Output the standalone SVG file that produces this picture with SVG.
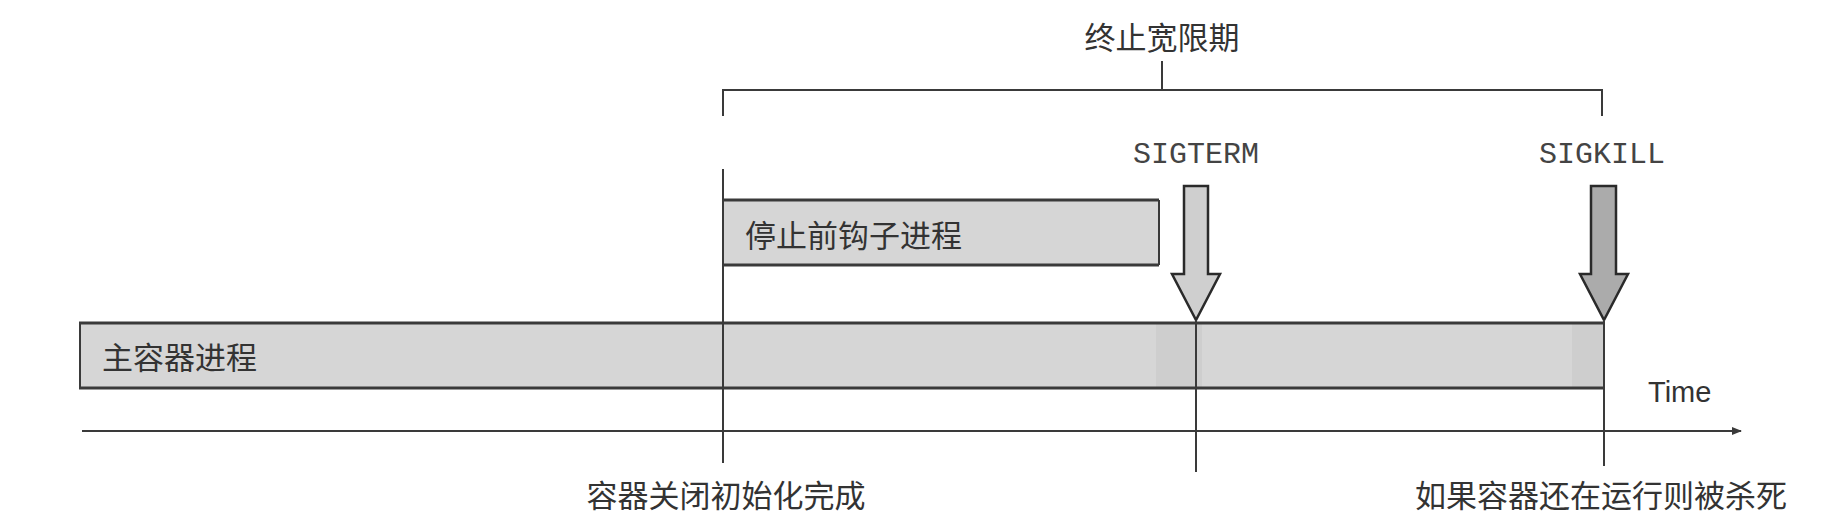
<svg xmlns="http://www.w3.org/2000/svg" width="1826" height="528" viewBox="0 0 1826 528">
  <style>
    .cjk { font-family: "Noto Sans CJK SC", "Noto Sans", sans-serif; font-size: 31px; fill: #333; }
    .mono { font-family: "Liberation Mono", monospace; font-size: 30px; fill: #444; }
    .sans { font-family: "Liberation Sans", sans-serif; font-size: 29px; fill: #333; }
    .ln { stroke: #3a3a3a; stroke-width: 2; fill: none; }
    .edge { stroke: #3a3a3a; stroke-width: 3; fill: none; }
    .bar { fill: #d6d6d6; }
    .arrow { stroke: #2a2a2a; stroke-width: 2.5; stroke-linejoin: miter; }
  </style>
  <defs>
    <marker id="tip" viewBox="0 0 10 10" refX="9" refY="5" markerWidth="11" markerHeight="10" orient="auto" markerUnits="userSpaceOnUse">
      <path d="M0,1 L10,5 L0,9 Z" fill="#3a3a3a"/>
    </marker>
  </defs>
  <rect width="1826" height="528" fill="#ffffff"/>

  <g id="grace-period">
    <path class="ln" d="M723,116 V90 H1602 V116"/>
    <path class="ln" d="M1162,61 V90"/>
    <text class="cjk" x="1162" y="49" text-anchor="middle">终止宽限期</text>
  </g>

  <g id="main-process">
    <rect class="bar" x="79" y="323" width="1525" height="65"/>
    <rect x="1156" y="323" width="46" height="65" fill="#cecece"/>
    <rect x="1572" y="323" width="32" height="65" fill="#cecece"/>
    <path class="edge" d="M79,323 H1604 M79,388 H1604"/>
    <path class="ln" d="M80,323 V388"/>
    <text class="cjk" x="102" y="369">主容器进程</text>
  </g>

  <g id="prestop-hook">
    <rect class="bar" x="723" y="200" width="436" height="65"/>
    <path class="edge" d="M723,200 H1159 M723,265 H1159"/>
    <path class="ln" d="M1159,200 V265"/>
    <text class="cjk" x="745" y="247">停止前钩子进程</text>
  </g>

  <g id="sigterm">
    <text class="mono" x="1196" y="163" text-anchor="middle">SIGTERM</text>
    <path class="arrow" fill="#cfcfcf" d="M1184,186 H1208 V274 H1220 L1196,320 L1172,274 H1184 Z"/>
  </g>

  <g id="sigkill">
    <text class="mono" x="1602" y="163" text-anchor="middle">SIGKILL</text>
    <path class="arrow" fill="#ababab" d="M1591,186 H1616 V274 H1628 L1604,320 L1580,274 H1591 Z"/>
  </g>

  <g id="connectors">
    <path class="ln" d="M723,169 V463"/>
    <path class="ln" d="M1196,320 V472"/>
    <path class="ln" d="M1604,320 V466"/>
    <path class="ln" d="M82,431 H1741" marker-end="url(#tip)"/>
  </g>

  <g id="labels">
    <text class="sans" x="1648" y="402">Time</text>
    <text class="cjk" x="726" y="507" text-anchor="middle">容器关闭初始化完成</text>
    <text class="cjk" x="1601" y="507" text-anchor="middle">如果容器还在运行则被杀死</text>
  </g>
</svg>
